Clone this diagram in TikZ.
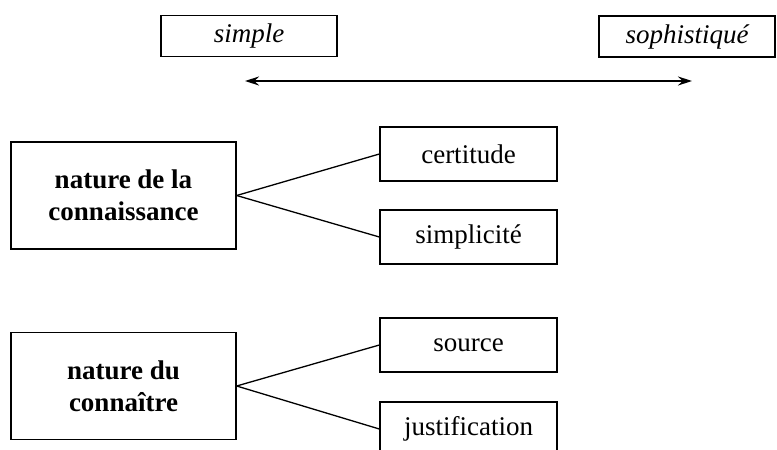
\documentclass[tikz,border=0pt]{standalone}
\usepackage{fontspec}
\setmainfont{Liberation Serif}
\usetikzlibrary{arrows.meta}
\begin{document}
\begin{tikzpicture}[x=1pt,y=-1pt,
  box/.style={draw, line width=1.3pt, inner sep=0pt, font=\fontsize{27}{32}\selectfont, align=center},
  topbox/.style={box, minimum width=176pt, minimum height=41pt},
  leftbox/.style={box, font=\bfseries\fontsize{27}{32}\selectfont, minimum width=225pt, minimum height=107pt},
  rightbox/.style={box, minimum width=177pt, minimum height=54pt},
  link/.style={line width=1.3pt},
  scalearrow/.style={line width=1.3pt, {Stealth[length=14pt,width=9pt]}-{Stealth[length=14pt,width=9pt]}}]
\useasboundingbox (0,0) rectangle (777,450);
\clip (0,0) rectangle (777,450);
\fill[white] (0,0) rectangle (777,450);
\node[topbox] (simple) at (249,36) {\itshape simple};
\node[topbox] (soph) at (687,36.5) {\itshape sophistiqué};
\coordinate (aL) at (245,81);
\coordinate (aR) at (692,81);
\draw[scalearrow] (aL) -- (aR);
\node[leftbox] (k1) at (123.5,195.5) {nature de la\\connaissance};
\node[rightbox] (cert) at (468.5,154) {certitude};
\node[rightbox] (simp) at (468.5,237) {simplicité};
\node[leftbox] (k2) at (123.5,386) {nature du\\connaître};
\node[rightbox] (src) at (468.5,345) {source};
\node[rightbox] (just) at (468.5,429) {justification};
\draw[link] (k1.east) -- (cert.west);
\draw[link] (k1.east) -- (simp.west);
\draw[link] (k2.east) -- (src.west);
\draw[link] (k2.east) -- (just.west);
\end{tikzpicture}
\end{document}
